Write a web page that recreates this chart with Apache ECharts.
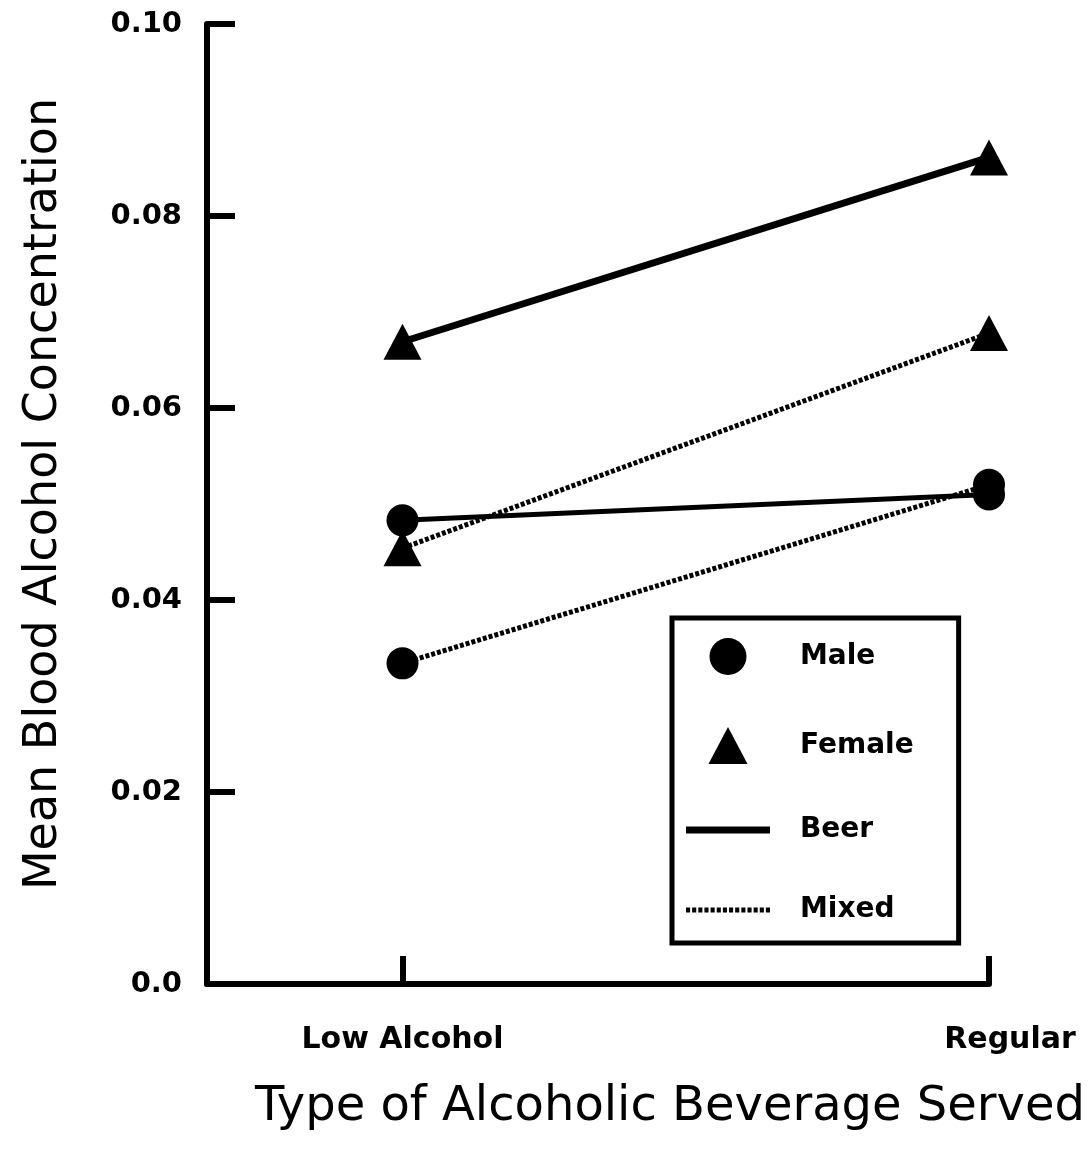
<!DOCTYPE html>
<html><head><meta charset="utf-8">
<script src="https://cdn.jsdelivr.net/npm/echarts@6/dist/echarts.min.js"></script>
<style>html,body{margin:0;padding:0;background:#fff}#c{width:1091px;height:1153px}</style>
</head><body><div id="c"></div>
<script>
const categories = ['', 'Low Alcohol', '', '', 'Regular'];
const conditions = ['Low Alcohol', 'Regular'];
const maleBeer = [0.0483, 0.0510];
const maleMixed = [0.0334, 0.0520];
const femaleBeer = [0.0669, 0.0861];
const femaleMixed = [0.0454, 0.0678];
const yTickLabels = ['0.0', '0.02', '0.04', '0.06', '0.08', '0.10'];

const FONT = 'DejaVu Sans';
const pts = arr => conditions.map((c, i) => [c, arr[i]]);

function dataSeries(name, arr, symbol, size, width, solid) {
  return {
    name: name, type: 'line', data: pts(arr),
    symbol: symbol, symbolSize: size,
    color: '#000',
    itemStyle: { color: '#000' },
    lineStyle: solid ? { color: '#000', width: width, type: 'solid' } : { color: '#000', width: width, type: [4, 2] },
    z: 3, silent: true
  };
}

// legend icons (shape only, scaled by the legend)
const triIcon = 'path://M0,36 L19,0 L38,36 Z';
const beerIcon = 'path://M0,0 H84 V7 H0 Z';
let mixedIcon = 'path://';
for (let i = 0; i < 14; i++) mixedIcon += 'M' + (i * 6) + ',0 h4 v5 h-4 Z ';

const chart = echarts.init(document.getElementById('c'));
chart.setOption({
  animation: false,
  backgroundColor: '#fff',
  grid: { left: 207, right: 102, top: 24, bottom: 169 },
  xAxis: {
    type: 'category', data: categories.map(c => c === 'Regular' ? { value: c, textStyle: { padding: [0, 0, 0, 42] } } : c),
    boundaryGap: false,
    axisLine: { lineStyle: { color: '#000', width: 6 } },
    axisTick: { inside: true, length: 28, interval: (i, v) => v !== '', lineStyle: { color: '#000', width: 6 } },
    axisLabel: { interval: 0, margin: 41, color: '#000', fontSize: 30, fontWeight: 'bold', fontFamily: FONT },
    name: 'Type of Alcoholic Beverage Served', nameLocation: 'middle', nameGap: 100,
    nameTextStyle: { color: '#000', fontSize: 48, fontFamily: FONT, padding: [0, 0, 0, 144] }
  },
  yAxis: {
    type: 'value', min: 0, max: 0.10, interval: 0.02,
    splitLine: { show: false },
    axisLine: { show: true, lineStyle: { color: '#000', width: 6 } },
    axisTick: { show: true, inside: true, length: 28, lineStyle: { color: '#000', width: 6 } },
    axisLabel: { margin: 25, color: '#000', fontSize: 29, fontWeight: 'bold', fontFamily: FONT,
      formatter: v => yTickLabels[Math.round(v / 0.02)] },
    name: 'Mean Blood Alcohol Concentration', nameLocation: 'middle', nameGap: 140,
    nameTextStyle: { color: '#000', fontSize: 46, fontFamily: FONT, padding: [0, 0, 0, 20] }
  },
  legend: {
    orient: 'vertical', left: 672, top: 618,
    padding: [20, 45, 19, 14],
    borderColor: '#000', borderWidth: 5, backgroundColor: '#fff',
    itemWidth: 84, itemHeight: 37, itemGap: 52,
    selectedMode: false,
    textStyle: { color: '#000', fontSize: 28, fontWeight: 'bold', fontFamily: FONT, padding: [0, 0, 0, 25] },
    data: [
      { name: 'Male', icon: 'circle', itemHeight: 34 },
      { name: 'Female', icon: triIcon },
      { name: 'Beer', icon: beerIcon },
      { name: 'Mixed', icon: mixedIcon }
    ]
  },
  series: [
    dataSeries('Male Beer', maleBeer, 'circle', 32, 5, true),
    dataSeries('Male Mixed', maleMixed, 'circle', 32, 5, false),
    dataSeries('Female Beer', femaleBeer, 'triangle', [38, 36], 7, true),
    dataSeries('Female Mixed', femaleMixed, 'triangle', [38, 36], 5, false),
    { name: 'Male', type: 'scatter', data: [], symbol: 'circle', color: '#000', itemStyle: { color: '#000', opacity: 1 } },
    { name: 'Female', type: 'scatter', data: [], symbol: 'triangle', color: '#000', itemStyle: { color: '#000', opacity: 1 } },
    { name: 'Beer', type: 'scatter', data: [], color: '#000', itemStyle: { color: '#000', opacity: 1 } },
    { name: 'Mixed', type: 'scatter', data: [], color: '#000', itemStyle: { color: '#000', opacity: 1 } }
  ]
});
</script></body></html>
